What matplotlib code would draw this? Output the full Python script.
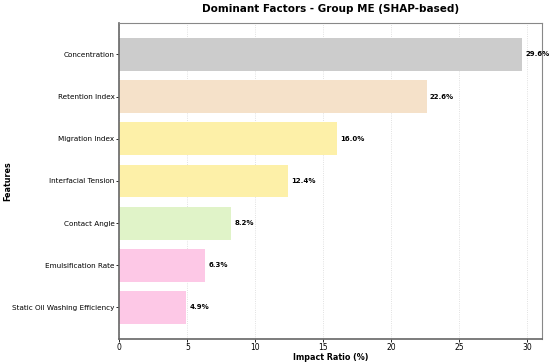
import matplotlib.pyplot as plt
import numpy as np

FEATURES = [
    "Concentration",
    "Retention Index",
    "Migration Index",
    "Interfacial Tension",
    "Contact Angle",
    "Emulsification Rate",
    "Static Oil Washing Efficiency",
]
IMPACT = [29.6, 22.6, 16.0, 12.4, 8.2, 6.3, 4.9]
COLORS = ["#cccccc", "#f5e1c9", "#fdf0a8", "#fdf0a8", "#e0f3c8", "#fdc8e6", "#fdc8e6"]

fig, ax = plt.subplots(figsize=(5.5, 3.63), dpi=100)
y = np.arange(len(FEATURES))[::-1]
ax.barh(y, IMPACT, height=0.78, color=COLORS, zorder=2)
for yi, v in zip(y, IMPACT):
    ax.text(v + 0.25, yi, f"{v:.1f}%", va="center", ha="left",
            fontsize=5, fontweight="bold")

ax.set_yticks(y)
ax.set_yticklabels(FEATURES, fontsize=5.2)
ax.set_xlim(0, max(IMPACT) * 1.05)
ax.set_ylim(-0.75, len(FEATURES) - 0.25)
ax.set_xticks([0, 5, 10, 15, 20, 25, 30])
ax.tick_params(axis="x", labelsize=5.5, length=2, width=0.6, pad=1)
ax.tick_params(axis="y", length=2, width=0.6, pad=1.5)
ax.grid(True, axis="x", linestyle=":", alpha=0.5, lw=0.6, zorder=0)
ax.set_xlabel("Impact Ratio (%)", fontsize=5.8, fontweight="bold", labelpad=0.5)
ax.set_ylabel("Features", fontsize=5.8, fontweight="bold")
ax.yaxis.set_label_coords(-0.253, 0.5)
ax.set_title("Dominant Factors - Group ME (SHAP-based)", fontsize=7.5,
             fontweight="bold", pad=8)
for side in ("left", "bottom"):
    ax.spines[side].set_color("#666666")
    ax.spines[side].set_linewidth(1.2)
for side in ("top", "right"):
    ax.spines[side].set_color("#888888")
    ax.spines[side].set_linewidth(0.8)

fig.subplots_adjust(left=0.217, right=0.985, top=0.937, bottom=0.066)
fig.savefig("out.png", dpi=100)
